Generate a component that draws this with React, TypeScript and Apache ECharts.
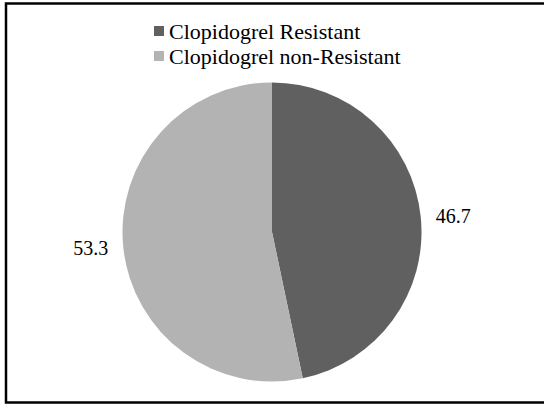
import React, { useEffect, useRef } from "react";
import * as echarts from "echarts";

const categories = ["Clopidogrel Resistant", "Clopidogrel non-Resistant"];
const values = [46.7, 53.3];
const colors = ["#606060", "#b3b3b3"];

export default function App() {
  const ref = useRef<HTMLDivElement>(null);
  useEffect(() => {
    document.body.style.margin = "0";
    const chart = echarts.init(ref.current!, undefined, { renderer: "svg" });
    const font = "Liberation Serif";
    chart.setOption({
      animation: false,
      backgroundColor: "#ffffff",
      color: colors,
      textStyle: { fontFamily: font },
      legend: {
        orient: "vertical",
        left: 154,
        top: 20,
        padding: 0,
        icon: "rect",
        itemWidth: 10,
        itemHeight: 10,
        itemGap: 3,
        textStyle: { fontFamily: font, fontSize: 22, lineHeight: 22, color: "#000" },
        data: categories,
      },
      graphic: [
        {
          type: "rect",
          shape: { x: 6, y: 3.5, width: 600, height: 399 },
          style: { fill: "none", stroke: "#000", lineWidth: 2.5 },
          silent: true,
        },
      ],
      series: [
        {
          type: "pie",
          center: [272, 232],
          radius: 149.5,
          startAngle: 90,
          clockwise: true,
          itemStyle: { borderWidth: 0 },
          label: {
            show: true,
            position: "outside",
            fontFamily: font,
            fontSize: 20,
            color: "#000",
            formatter: (p: any) => p.value.toFixed(1),
            distanceToLabelLine: 5,
          },
          labelLine: { show: false, length: 5, length2: 5 },
          emphasis: { disabled: true },
          data: categories.map((c, i) => ({ name: c, value: values[i] })),
        },
      ],
    });
    return () => chart.dispose();
  }, []);
  return <div ref={ref} style={{ width: 544, height: 406 }} />;
}
